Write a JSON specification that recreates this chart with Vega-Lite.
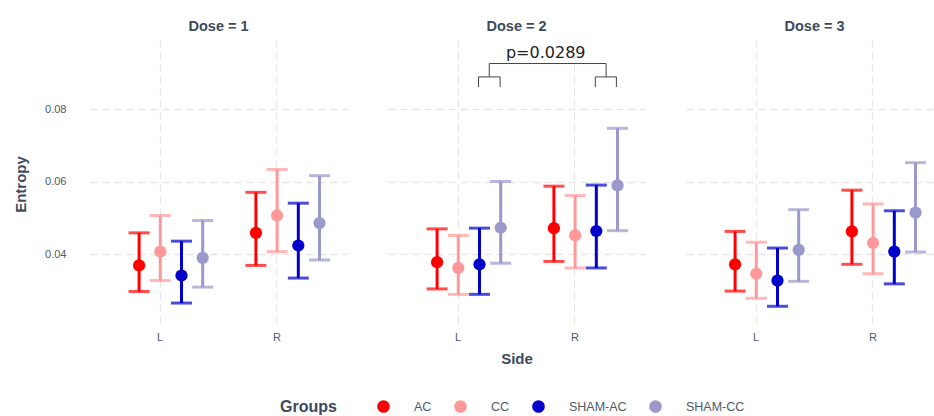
{
  "$schema": "https://vega.github.io/schema/vega-lite/v6.json",
  "padding": {"left": 13, "top": 18, "right": 0, "bottom": 0},
  "config": {
    "view": {"stroke": null},
    "font": "Liberation Sans",
    "axis": {"domain": false, "ticks": false, "gridColor": "#e6e6e6", "gridDash": [7, 5], "gridWidth": 1.3, "labelColor": "#4d5a68", "labelFontSize": 11, "titleColor": "#3d4a5c", "titleFontSize": 15, "titleFontWeight": "bold"}
  },
  "data": {"values": [
    {"Dose": 1, "Side": "L", "Group": "AC", "mean": 0.0369, "lo": 0.0297, "hi": 0.0459},
    {"Dose": 1, "Side": "L", "Group": "CC", "mean": 0.0407, "lo": 0.0327, "hi": 0.0507},
    {"Dose": 1, "Side": "L", "Group": "SHAM-AC", "mean": 0.0341, "lo": 0.0265, "hi": 0.0436},
    {"Dose": 1, "Side": "L", "Group": "SHAM-CC", "mean": 0.0390, "lo": 0.0309, "hi": 0.0493},
    {"Dose": 1, "Side": "R", "Group": "AC", "mean": 0.0459, "lo": 0.0369, "hi": 0.0571},
    {"Dose": 1, "Side": "R", "Group": "CC", "mean": 0.0507, "lo": 0.0407, "hi": 0.0634},
    {"Dose": 1, "Side": "R", "Group": "SHAM-AC", "mean": 0.0424, "lo": 0.0334, "hi": 0.0541},
    {"Dose": 1, "Side": "R", "Group": "SHAM-CC", "mean": 0.0486, "lo": 0.0384, "hi": 0.0617},
    {"Dose": 2, "Side": "L", "Group": "AC", "mean": 0.0378, "lo": 0.0304, "hi": 0.0470},
    {"Dose": 2, "Side": "L", "Group": "CC", "mean": 0.0362, "lo": 0.0289, "hi": 0.0452},
    {"Dose": 2, "Side": "L", "Group": "SHAM-AC", "mean": 0.0372, "lo": 0.0289, "hi": 0.0472},
    {"Dose": 2, "Side": "L", "Group": "SHAM-CC", "mean": 0.0473, "lo": 0.0375, "hi": 0.0601},
    {"Dose": 2, "Side": "R", "Group": "AC", "mean": 0.0472, "lo": 0.0380, "hi": 0.0588},
    {"Dose": 2, "Side": "R", "Group": "CC", "mean": 0.0452, "lo": 0.0362, "hi": 0.0562},
    {"Dose": 2, "Side": "R", "Group": "SHAM-AC", "mean": 0.0464, "lo": 0.0362, "hi": 0.0591},
    {"Dose": 2, "Side": "R", "Group": "SHAM-CC", "mean": 0.0590, "lo": 0.0465, "hi": 0.0748},
    {"Dose": 3, "Side": "L", "Group": "AC", "mean": 0.0372, "lo": 0.0298, "hi": 0.0463},
    {"Dose": 3, "Side": "L", "Group": "CC", "mean": 0.0346, "lo": 0.0278, "hi": 0.0433},
    {"Dose": 3, "Side": "L", "Group": "SHAM-AC", "mean": 0.0327, "lo": 0.0256, "hi": 0.0417},
    {"Dose": 3, "Side": "L", "Group": "SHAM-CC", "mean": 0.0412, "lo": 0.0325, "hi": 0.0523},
    {"Dose": 3, "Side": "R", "Group": "AC", "mean": 0.0463, "lo": 0.0372, "hi": 0.0577},
    {"Dose": 3, "Side": "R", "Group": "CC", "mean": 0.0431, "lo": 0.0346, "hi": 0.0539},
    {"Dose": 3, "Side": "R", "Group": "SHAM-AC", "mean": 0.0407, "lo": 0.0318, "hi": 0.0520},
    {"Dose": 3, "Side": "R", "Group": "SHAM-CC", "mean": 0.0515, "lo": 0.0406, "hi": 0.0653},
    {"Dose": 2, "path": "top", "ord": 1, "Side": "L", "off": 0.267, "by": 0.0890},
    {"Dose": 2, "path": "top", "ord": 2, "Side": "L", "off": 0.267, "by": 0.0927},
    {"Dose": 2, "path": "top", "ord": 3, "Side": "R", "off": 0.267, "by": 0.0927},
    {"Dose": 2, "path": "top", "ord": 4, "Side": "R", "off": 0.267, "by": 0.0890},
    {"Dose": 2, "path": "left", "ord": 1, "Side": "L", "off": 0.175, "by": 0.0862},
    {"Dose": 2, "path": "left", "ord": 2, "Side": "L", "off": 0.175, "by": 0.0890},
    {"Dose": 2, "path": "left", "ord": 3, "Side": "L", "off": 0.360, "by": 0.0890},
    {"Dose": 2, "path": "left", "ord": 4, "Side": "L", "off": 0.360, "by": 0.0862},
    {"Dose": 2, "path": "right", "ord": 1, "Side": "R", "off": 0.175, "by": 0.0862},
    {"Dose": 2, "path": "right", "ord": 2, "Side": "R", "off": 0.175, "by": 0.0890},
    {"Dose": 2, "path": "right", "ord": 3, "Side": "R", "off": 0.355, "by": 0.0890},
    {"Dose": 2, "path": "right", "ord": 4, "Side": "R", "off": 0.355, "by": 0.0862},
    {"Dose": 2, "label": "p=0.0289", "Side": "L", "off": 0.75, "by": 0.0943}
  ]},
  "facet": {
    "column": {
      "field": "Dose", "type": "ordinal", "title": "Side",
      "header": {
        "labelExpr": "'Dose = ' + datum.value",
        "labelOrient": "top", "titleOrient": "bottom",
        "labelFontSize": 14.5, "labelFontWeight": "bold", "labelColor": "#3d4a5c", "labelPadding": 6,
        "titleFontSize": 15, "titleFontWeight": "bold", "titleColor": "#3d4a5c", "titlePadding": 0
      }
    }
  },
  "spacing": 41,
  "spec": {
    "width": 257,
    "height": 288,
    "resolve": {"scale": {"xOffset": "independent"}},
    "layer": [
      {
        "transform": [{"filter": "isValid(datum.Group)"}],
        "mark": {"type": "rule", "strokeWidth": 3},
        "encoding": {
          "x": {"field": "Side", "type": "nominal", "title": null, "scale": {"paddingInner": 0, "paddingOuter": 0.1},
                "axis": {"labelAngle": 0, "grid": true, "bandPosition": 0.5, "labelPadding": 3}},
          "xOffset": {"field": "Group", "type": "nominal", "scale": {"type": "band", "paddingInner": 0, "paddingOuter": 0.755, "align": 0.8375}},
          "y": {"field": "lo", "type": "quantitative", "scale": {"domain": [0.0196, 0.0992], "nice": false, "zero": false},
                "axis": {"values": [0.04, 0.06, 0.08], "format": ".2f", "title": "Entropy", "labelPadding": 24, "titlePadding": 16}},
          "y2": {"field": "hi"},
          "color": {"field": "Group", "type": "nominal", "title": "Groups",
                    "scale": {"domain": ["AC", "CC", "SHAM-AC", "SHAM-CC"], "range": ["#ff0000", "#ff9999", "#0000cc", "#9999cc"]},
                    "legend": {"orient": "none", "legendX": 190, "legendY": 360, "direction": "horizontal", "titleOrient": "left",
                               "titleFontSize": 16, "titleFontWeight": "bold", "titleColor": "#3d4a5c", "titlePadding": 40,
                               "labelFontSize": 12.5, "labelColor": "#4d5a68", "labelOffset": 24, "columnPadding": 22,
                               "symbolType": "circle", "symbolSize": 160, "symbolStrokeWidth": 0,
                               "symbolOpacity": 1, "symbolFillOpacity": 1,
                               "encode": {"symbols": {"update": {"fill": {"scale": "color", "field": "value"}, "strokeWidth": {"value": 0}}}}}}
        }
      },
      {
        "transform": [{"filter": "isValid(datum.Group)"}],
        "mark": {"type": "tick", "thickness": 3, "size": 21},
        "encoding": {
          "x": {"field": "Side", "type": "nominal"},
          "xOffset": {"field": "Group", "type": "nominal", "scale": {"type": "band", "paddingInner": 0, "paddingOuter": 0.755, "align": 0.8375}},
          "y": {"field": "lo", "type": "quantitative"},
          "color": {"field": "Group", "type": "nominal"}
        }
      },
      {
        "transform": [{"filter": "isValid(datum.Group)"}],
        "mark": {"type": "tick", "thickness": 3, "size": 21},
        "encoding": {
          "x": {"field": "Side", "type": "nominal"},
          "xOffset": {"field": "Group", "type": "nominal", "scale": {"type": "band", "paddingInner": 0, "paddingOuter": 0.755, "align": 0.8375}},
          "y": {"field": "hi", "type": "quantitative"},
          "color": {"field": "Group", "type": "nominal"}
        }
      },
      {
        "transform": [{"filter": "isValid(datum.Group)"}],
        "mark": {"type": "point", "filled": true, "opacity": 1, "size": 150, "shape": "circle"},
        "encoding": {
          "x": {"field": "Side", "type": "nominal"},
          "xOffset": {"field": "Group", "type": "nominal", "scale": {"type": "band", "paddingInner": 0, "paddingOuter": 0.755, "align": 0.8375}},
          "y": {"field": "mean", "type": "quantitative"},
          "color": {"field": "Group", "type": "nominal"}
        }
      },
      {
        "transform": [{"filter": "isValid(datum.path)"}],
        "mark": {"type": "line", "color": "#444444", "strokeWidth": 1},
        "encoding": {
          "x": {"field": "Side", "type": "nominal"},
          "xOffset": {"field": "off", "type": "quantitative", "scale": {"domain": [-0.5, 0.5], "nice": false, "zero": false}},
          "y": {"field": "by", "type": "quantitative"},
          "detail": {"field": "path"},
          "order": {"field": "ord"}
        }
      },
      {
        "transform": [{"filter": "isValid(datum.label)"}],
        "mark": {"type": "text", "fontSize": 16, "color": "#222222", "baseline": "alphabetic", "font": "DejaVu Sans"},
        "encoding": {
          "x": {"field": "Side", "type": "nominal"},
          "xOffset": {"field": "off", "type": "quantitative", "scale": {"domain": [-0.5, 0.5], "nice": false, "zero": false}},
          "y": {"field": "by", "type": "quantitative"},
          "text": {"field": "label"}
        }
      }
    ]
  }
}
